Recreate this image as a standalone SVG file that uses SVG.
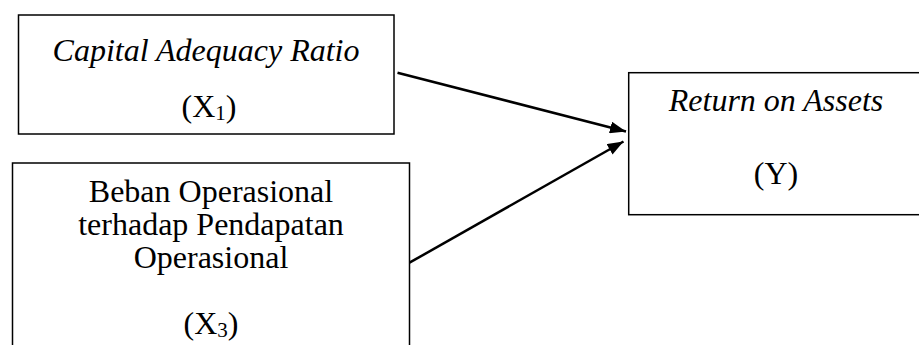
<svg xmlns="http://www.w3.org/2000/svg" width="919" height="345" viewBox="0 0 919 345">
<defs>
<style>
.box{fill:#fff;stroke:#000;stroke-width:1.5}
.t{font-family:"Liberation Serif","Times New Roman",serif;font-size:32px;fill:#000;text-anchor:middle}
.i{font-style:italic}
.sub{font-size:21px}
.conn{stroke:#000;stroke-width:2.5;fill:none}
</style>
<marker id="ah" viewBox="0 0 10 10" refX="10" refY="5" markerWidth="16" markerHeight="12" markerUnits="userSpaceOnUse" orient="auto" preserveAspectRatio="none">
<path d="M0,0 L10,5 L0,10 Z" fill="#000"/>
</marker>
</defs>
<rect width="919" height="345" fill="#fff"/>
<g id="node-car">
<rect class="box" x="18.5" y="15" width="375.5" height="119"/>
<text class="t i" x="206" y="61">Capital Adequacy Ratio</text>
<text class="t" x="209" y="117">(X<tspan class="sub" dy="3">1</tspan><tspan dy="-3">)</tspan></text>
</g>
<g id="node-bopo">
<rect class="box" x="12.5" y="163" width="397" height="200"/>
<text class="t" x="211" y="202">Beban Operasional</text>
<text class="t" x="211" y="235">terhadap Pendapatan</text>
<text class="t" x="211" y="268">Operasional</text>
<text class="t" x="211" y="334">(X<tspan class="sub" dy="3">3</tspan><tspan dy="-3">)</tspan></text>
</g>
<g id="node-roa">
<rect class="box" x="628.7" y="72.7" width="300" height="142"/>
<text class="t i" x="776" y="111">Return on Assets</text>
<text class="t" x="776" y="184">(Y)</text>
</g>
<g id="connectors">
<line class="conn" x1="397.5" y1="72.7" x2="626" y2="131.5" marker-end="url(#ah)"/>
<line class="conn" x1="409.5" y1="262.7" x2="623.5" y2="141.5" marker-end="url(#ah)"/>
</g>
</svg>
